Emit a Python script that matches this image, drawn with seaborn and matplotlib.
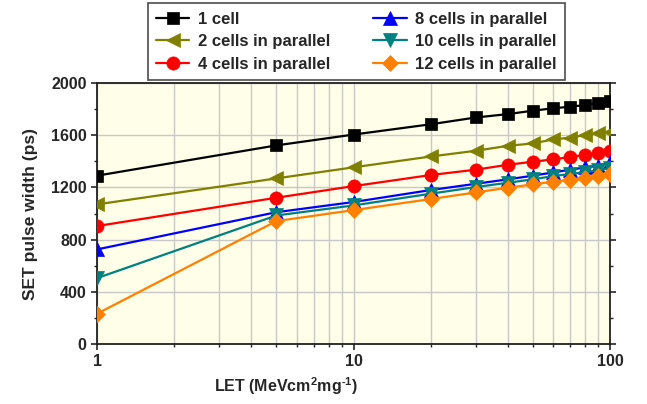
import numpy as np
import pandas as pd
import seaborn as sns
import matplotlib.pyplot as plt
from matplotlib.ticker import FixedLocator, LogLocator, NullFormatter

# =======================
# Data
# =======================
let_values = [1, 5, 10, 20, 30, 40, 50, 60, 70, 80, 90, 100]

one_cell = [1290, 1522, 1605, 1684, 1736, 1762, 1788, 1806, 1819, 1831, 1849, 1864]
two_cells = [1070, 1269, 1354, 1437, 1481, 1519, 1537, 1568, 1581, 1601, 1614, 1627]
four_cells = [904, 1121, 1210, 1295, 1336, 1374, 1397, 1415, 1433, 1448, 1463, 1476]
eight_cells = [725, 1010, 1088, 1180, 1228, 1262, 1290, 1315, 1336, 1353, 1366, 1392]
ten_cells = [505, 985, 1062, 1152, 1203, 1236, 1262, 1287, 1303, 1318, 1331, 1349]
twelve_cells = [232, 942, 1026, 1111, 1162, 1198, 1223, 1244, 1259, 1274, 1289, 1300]

series_names = ["1 cell", "2 cells in parallel", "4 cells in parallel",
                "8 cells in parallel", "10 cells in parallel", "12 cells in parallel"]
series_values = [one_cell, two_cells, four_cells, eight_cells, ten_cells, twelve_cells]

colors = ["#000000", "#808000", "#FF0000", "#0000FF", "#008080", "#FF8000"]
marker_shapes = ["s", "<", "o", "^", "v", "D"]
marker_sizes = [8.5, 10.5, 9.5, 10.5, 10.5, 8.5]

# =======================
# Style
# =======================
sns.set_style("ticks")
plt.rcParams["font.family"] = ["Liberation Sans", "DejaVu Sans"]
plt.rcParams["font.weight"] = "bold"
plt.rcParams["mathtext.fontset"] = "custom"
plt.rcParams["mathtext.bf"] = "Liberation Sans:bold"
plt.rcParams["mathtext.rm"] = "Liberation Sans:bold"
plt.rcParams["mathtext.default"] = "bf"

fig = plt.figure(figsize=(6.47, 4.04), dpi=100)
ax = fig.add_axes([0.150, 0.1485, 0.793, 0.646])
ax.set_facecolor("#FFFEE8")

for name, vals, col, mk, ms in zip(series_names, series_values, colors,
                                   marker_shapes, marker_sizes):
    d = pd.DataFrame({"LET": let_values, "width": vals})
    sns.lineplot(data=d, x="LET", y="width", color=col, marker=mk,
                 markersize=ms, markeredgewidth=0.5, markeredgecolor=col,
                 linewidth=1.6, label=name, ax=ax, zorder=3)

ax.set_xscale("log")
ax.set_xlim(1, 100)
ax.set_ylim(0, 2000)
ax.xaxis.set_major_locator(FixedLocator([1, 10, 100]))
ax.set_xticklabels(["1", "10", "100"])
ax.xaxis.set_minor_locator(LogLocator(base=10, subs=np.arange(2, 10)))
ax.xaxis.set_minor_formatter(NullFormatter())
ax.set_yticks(np.arange(0, 2001, 400))
ax.yaxis.set_minor_locator(FixedLocator(np.arange(200, 2000, 400)))

ax.grid(True, which="major", axis="both", color="#C8C8C8", linewidth=1.0, zorder=0)
ax.grid(True, which="minor", axis="x", color="#C8C8C8", linewidth=1.0, zorder=0)
ax.set_axisbelow(True)

for side in ["left", "right", "top", "bottom"]:
    ax.spines[side].set_linewidth(1.3)
    ax.spines[side].set_color("#202020")

ax.tick_params(which="major", direction="out", length=4, width=1.2, labelsize=11.5)
ax.tick_params(which="minor", direction="out", length=2.5, width=1.0)
ax.tick_params(axis="y", which="both", right=True)
for lab in ax.get_xticklabels() + ax.get_yticklabels():
    lab.set_fontweight("bold")

ax.set_xlabel("LET (MeVcm$^2$mg$^{\\text{-1}}$)", fontsize=11.5, fontweight="bold")
ax.xaxis.set_label_coords(0.368, -0.118)
ax.set_ylabel("SET pulse width (ps)", fontsize=12.5, fontweight="bold", labelpad=9)

leg = ax.legend(
    ncol=2, loc="lower center", bbox_to_anchor=(0.505, 1.012),
    borderaxespad=0,
    frameon=True, fancybox=False, edgecolor="#202020",
    prop={"weight": "bold", "size": 12},
    handlelength=2.0, columnspacing=2.6, labelspacing=0.45,
    borderpad=0.5, handletextpad=0.5,
)
leg.get_frame().set_linewidth(1.2)

fig.savefig("out.png", dpi=100)
